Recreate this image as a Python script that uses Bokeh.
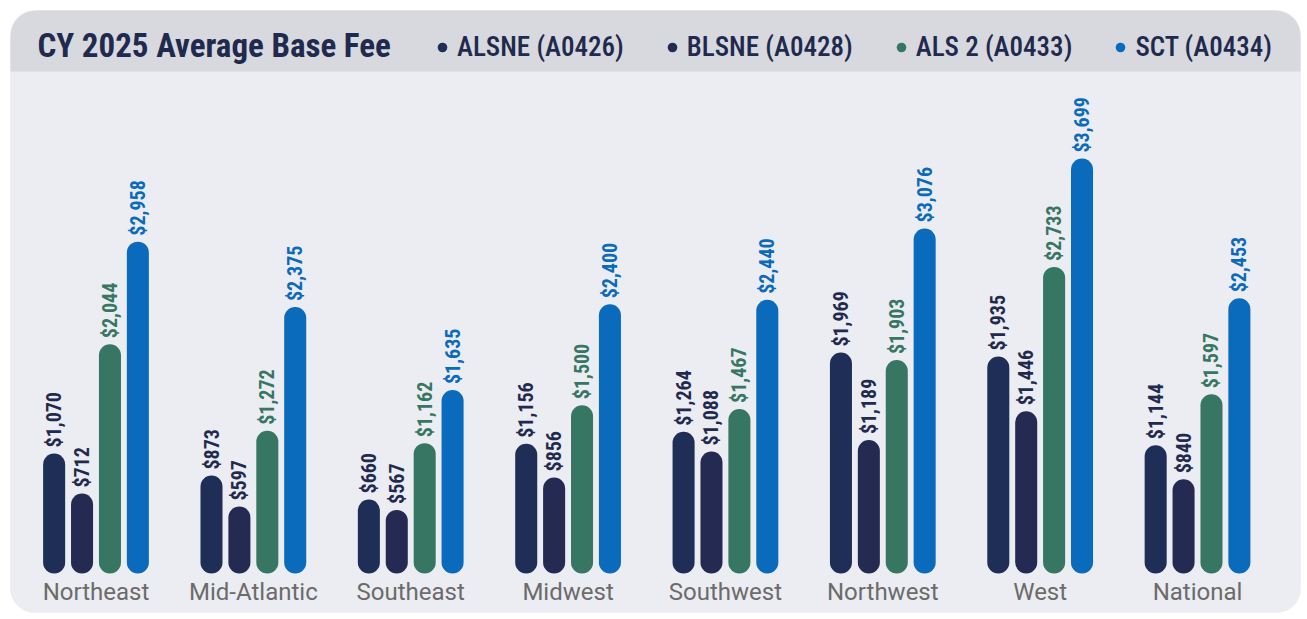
import numpy as np
from bokeh.plotting import figure
from bokeh.models import Range1d, ColumnDataSource, BoxAnnotation, Label, Legend, LegendItem
from bokeh.core.properties import value
from bokeh.embed import file_html
from bokeh.resources import INLINE

# ---------------- data ----------------
title_text = "CY 2025 Average Base Fee"
regions = ["Northeast", "Mid-Atlantic", "Southeast", "Midwest",
           "Southwest", "Northwest", "West", "National"]
series_names = ["ALSNE (A0426)", "BLSNE (A0428)", "ALS 2 (A0433)", "SCT (A0434)"]
alsne = [1070, 873, 660, 1156, 1264, 1969, 1935, 1144]
blsne = [712, 597, 567, 856, 1088, 1189, 1446, 840]
als2 = [2044, 1272, 1162, 1500, 1467, 1903, 2733, 1597]
sct = [2958, 2375, 1635, 2400, 2440, 3076, 3699, 2453]

# ---------------- styles ----------------
bar_colors = ["#1f2e56", "#242a52", "#367663", "#0a6abc"]
label_colors = ["#1f2a4e", "#1f2a4e", "#367663", "#0a6abc"]
COND = "Roboto Condensed"
COND_MED = "Roboto Condensed Medium"

W, H = 1304, 617
GROUP_PX = 157.36
X0_PX = 95.5
BASE_PX = 573
PX_PER_UNIT = 0.11219

x_start = -X0_PX / GROUP_PX
x_end = (W - X0_PX) / GROUP_PX
y_end = BASE_PX / PX_PER_UNIT
y_start = -(H - BASE_PX) / PX_PER_UNIT


def dx(px):
    return x_start + px / GROUP_PX


def dy(py):
    return y_end - py / PX_PER_UNIT


p = figure(width=W, height=H, x_range=Range1d(x_start, x_end),
           y_range=Range1d(y_start, y_end), output_backend="svg",
           toolbar_location=None, min_border=0,
           x_axis_location=None, y_axis_location=None,
           background_fill_color="white", border_fill_color="white",
           outline_line_color=None)
p.grid.visible = False

panel = BoxAnnotation(left=dx(10), right=dx(1300), top=dy(10), bottom=dy(612),
                      fill_color="#ecedf2", fill_alpha=1, line_color="#dfe0e5",
                      line_width=1, border_radius=24, level="underlay")
header = BoxAnnotation(left=dx(10), right=dx(1300), top=dy(10), bottom=dy(71),
                       fill_color="#d8d9de", fill_alpha=1, line_color=None,
                       border_radius=dict(top_left=26, top_right=26,
                                          bottom_right=0, bottom_left=0),
                       level="underlay")
p.add_layout(panel)
p.add_layout(header)

p.add_layout(Label(x=dx(37), y=dy(45), text=title_text, text_font=COND,
                   text_font_size="33px", text_font_style="bold",
                   text_color="#1f2a4e", text_baseline="middle"))

offsets = [-0.266, -0.0887, 0.0887, 0.266]
xs = np.arange(len(regions))
all_series = [alsne, blsne, als2, sct]

items = []
for vals, off, col, lcol, name in zip(all_series, offsets, bar_colors,
                                      label_colors, series_names):
    src = ColumnDataSource(dict(x=xs + off, top=vals,
                                label=[f"${v:,}" for v in vals]))
    p.vbar(x="x", top="top", bottom=0, width=0.14, source=src,
           fill_color=col, line_color=None, border_radius=11)
    p.text(x="x", y="top", text="label", source=src, angle=np.pi / 2,
           text_align="left", text_baseline="middle", y_offset=-6,
           text_font=value(COND), text_font_style="bold",
           text_font_size="20px", text_color=lcol)
    dot = p.scatter(x="x", y="top", source=src, marker="circle", size=0,
                    fill_color=col, line_color=None)
    items.append(LegendItem(label=name, renderers=[dot]))

p.text(x=xs, y=[0] * len(regions), text=regions, y_offset=18,
       text_align="center", text_baseline="middle",
       text_font=value("Roboto"), text_font_size="24px", text_color="#6b6b6b")

legend = Legend(items=items, orientation="horizontal", location=(430, 554),
                background_fill_alpha=0, border_line_color=None, padding=0,
                margin=0, spacing=36, glyph_width=24, glyph_height=24,
                label_standoff=3, label_text_font=COND_MED,
                label_text_font_size="27px", label_text_color="#1f2a4e",
                label_height=30)
p.add_layout(legend)

open("out.html", "w").write(file_html(p, INLINE))
